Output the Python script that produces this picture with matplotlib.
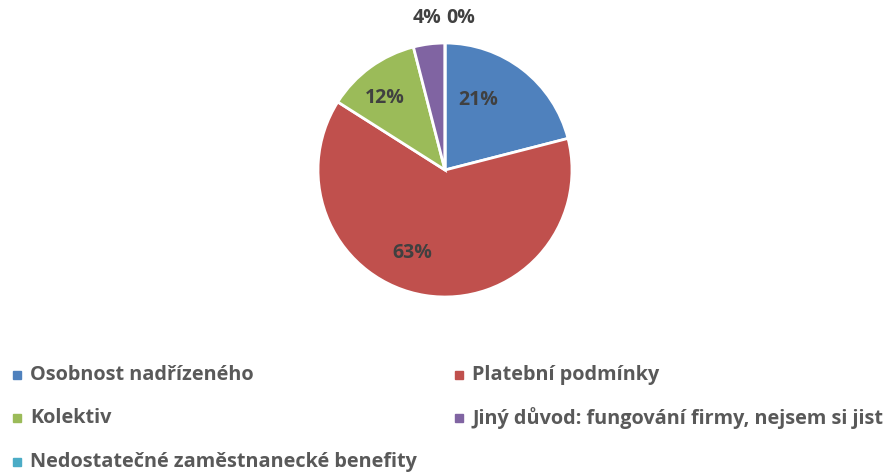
import matplotlib.pyplot as plt
from matplotlib.patches import Rectangle

categories = ["Osobnost nadřízeného", "Platební podmínky", "Kolektiv",
              "Jiný důvod: fungování firmy, nejsem si jist",
              "Nedostatečné zaměstnanecké benefity"]
shares = [21, 63, 12, 4, 0]
colors = ["#4F81BD", "#C0504D", "#9BBB59", "#8064A2", "#4BACC6"]

W, H = 890, 474
fig = plt.figure(figsize=(W / 100, H / 100), dpi=100)

# pie: center (445,170) px, radius 127 px
cx, cy, r = 445, 170, 127
ax = fig.add_axes([(cx - r) / W, 1 - (cy + r) / H, 2 * r / W, 2 * r / H])
wedges, _ = ax.pie(shares, colors=colors, startangle=90, counterclock=False,
                   radius=1, wedgeprops=dict(edgecolor="white", linewidth=2))
ax.set_xlim(-1, 1)
ax.set_ylim(-1, 1)
ax.set_aspect("auto")
ax.axis("off")

# label positions (pie-radius units), Excel best-fit look
label_pos = [(0.26, 0.55), (-0.26, -0.65), (-0.47, 0.57), (-0.14, 1.2), (0.12, 1.2)]
for v, (x, y) in zip(shares, label_pos):
    ax.text(x, y, f"{v}%", ha="center", va="center", fontsize=14,
            fontweight="bold", family="Open Sans", color="#404040", clip_on=False)

# manual legend, two columns
slots = [(13, 375), (455, 375), (13, 418), (455, 418), (13, 462)]
for i, (x, y) in enumerate(slots):
    fig.patches.append(Rectangle((x / W, 1 - (y + 4) / H), 8 / W, 8 / H,
                                 transform=fig.transFigure, color=colors[i]))
    fig.text((x + 17) / W, 1 - y / H, categories[i], ha="left", va="center",
             fontsize=14.3, fontweight="bold", family="Open Sans", color="#595959")

fig.savefig("out.png", dpi=100)
